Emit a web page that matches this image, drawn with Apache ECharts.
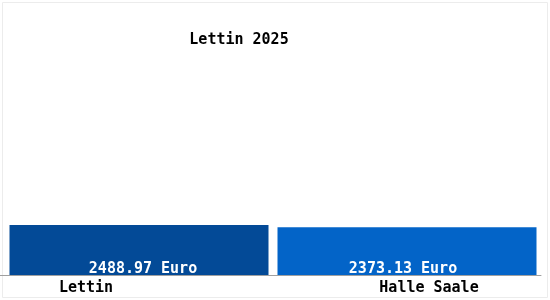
<!DOCTYPE html>
<html><head><meta charset="utf-8">
<script src="https://cdn.jsdelivr.net/npm/echarts@6/dist/echarts.min.js"></script>
<style>html,body{margin:0;padding:0;background:#fff}#c{width:550px;height:300px}</style>
</head><body><div id="c"></div>
<script>
const categories = ['Lettin', 'Halle Saale'];
const values = [2488.97, 2373.13];
const colors = ['#034a97', '#0364c8'];
const titleText = 'Lettin 2025';

const chart = echarts.init(document.getElementById('c'), null, {renderer: 'canvas'});
const font = 'DejaVu Sans Mono';
const fw = 'bold';
chart.setOption({
  backgroundColor: '#ffffff',
  animation: false,
  title: {text: titleText, left: 234, top: 28, textAlign: 'center',
    textStyle: {fontFamily: font, fontSize: 15, fontWeight: fw, color: '#000'}},
  grid: {left: 5, right: 9, top: 0, bottom: 25},
  xAxis: {type: 'category', data: categories,
    axisLine: {show: true, lineStyle: {color: '#a0a0a0', width: 1}},
    axisTick: {show: false},
    axisLabel: {margin: 6, fontFamily: font, fontSize: 15, fontWeight: fw, color: '#000',
      formatter: function (v, i) { return i === 0 ? '{a|' + v + '}' : '{b|' + v + '}'; },
      rich: {a: {fontFamily: font, fontSize: 15, fontWeight: fw, color: '#000', padding: [0, 106, 0, 0]},
             b: {fontFamily: font, fontSize: 15, fontWeight: fw, color: '#000', padding: [0, 0, 0, 44]}}}},
  yAxis: {type: 'value', min: 0, max: 13690, show: false, splitLine: {show: false}},
  series: [{type: 'bar', barWidth: 259,
    data: values.map((v, i) => ({value: v, itemStyle: {color: colors[i]},
      label: {offset: [i === 0 ? 4 : -4, 0]}})),
    label: {show: true, position: 'insideBottom', distance: -2,
      formatter: p => p.value.toFixed(2) + ' Euro',
      fontFamily: font, fontSize: 15, fontWeight: fw, color: '#fff'}}],
  graphic: [
    {type: 'rect', shape: {x: 2.5, y: 2.5, width: 545, height: 295},
     style: {fill: 'none', stroke: '#ececec', lineWidth: 1}, silent: true},
    {type: 'line', shape: {x1: 0, y1: 275.5, x2: 5, y2: 275.5},
     style: {stroke: '#a0a0a0', lineWidth: 1}, silent: true}
  ]
});
</script></body></html>
